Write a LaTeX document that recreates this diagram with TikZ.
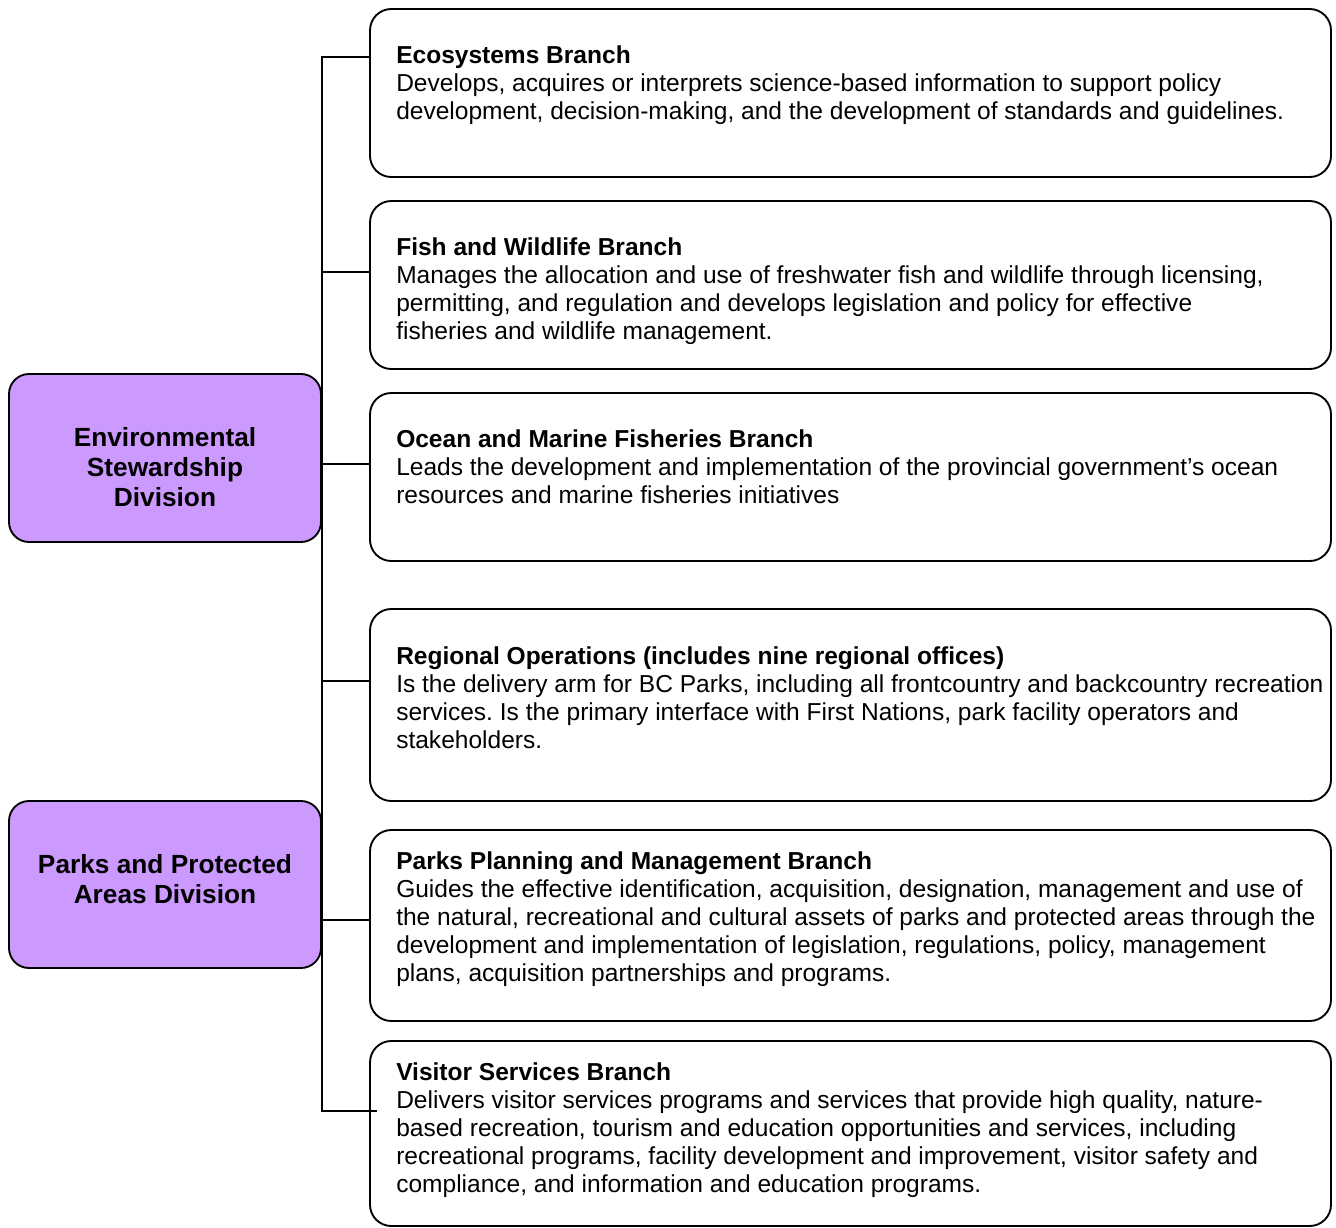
\documentclass[tikz,border=0pt]{standalone}
\usepackage{fontspec}
\setmainfont{Liberation Sans}
\frenchspacing
\definecolor{divfill}{HTML}{CC99FF}
\begin{document}
\begin{tikzpicture}[x=0.75pt,y=-0.75pt,
  branchbox/.style={draw=black,line width=1.4pt,rounded corners=16pt,fill=white,inner sep=0pt},
  divbox/.style={draw=black,line width=1.4pt,rounded corners=15pt,fill=divfill,inner sep=0pt},
  btext/.style={anchor=north west,inner sep=0pt,align=left,font=\fontsize{18.4}{21}\selectfont},
  dtext/.style={inner sep=0pt,align=center,font=\fontsize{19.7}{22.5}\selectfont\bfseries},
  link/.style={line width=1.4pt}]
\useasboundingbox (0,0) rectangle (1336,1228);
% branch boxes
\node[branchbox, minimum width=961*0.75pt, minimum height=168*0.75pt] (b1) at (850.5,93) {};
\node[branchbox, minimum width=961*0.75pt, minimum height=168*0.75pt] (b2) at (850.5,285) {};
\node[branchbox, minimum width=961*0.75pt, minimum height=168*0.75pt] (b3) at (850.5,477) {};
\node[branchbox, minimum width=961*0.75pt, minimum height=192*0.75pt] (b4) at (850.5,705) {};
\node[branchbox, minimum width=961*0.75pt, minimum height=191*0.75pt] (b5) at (850.5,925.5) {};
\node[branchbox, minimum width=961*0.75pt, minimum height=185*0.75pt] (b6) at (850.5,1133.5) {};
% division boxes
\node[divbox, minimum width=312*0.75pt, minimum height=168*0.75pt] (d1) at (165,458) {};
\node[divbox, minimum width=312*0.75pt, minimum height=167*0.75pt] (d2) at (165,884.5) {};
\node[dtext] (d1t) at (165,467) {Environmental\\Stewardship\\Division};
\node[dtext] (d2t) at (165,879) {Parks and Protected\\Areas Division};
% texts
\node[btext] (t1) at (396,45) {\textbf{Ecosystems Branch}\\Develops, acquires or interprets science-based information to support policy\\development, decision-making, and the development of standards and guidelines.};
\node[btext] (t2) at (396,237) {\textbf{Fish and Wildlife Branch}\\Manages the allocation and use of freshwater fish and wildlife through licensing,\\permitting, and regulation and develops legislation and policy for effective\\fisheries and wildlife management.};
\node[btext] (t3) at (396,429) {\textbf{Ocean and Marine Fisheries Branch}\\Leads the development and implementation of the provincial government’s ocean\\resources and marine fisheries initiatives};
\node[btext] (t4) at (396,646) {\textbf{Regional Operations (includes nine regional offices)}\\Is the delivery arm for BC Parks, including all frontcountry and backcountry recreation\\services. Is the primary interface with First Nations, park facility operators and\\stakeholders.};
\node[btext] (t5) at (396,851) {\textbf{Parks Planning and Management Branch}\\Guides the effective identification, acquisition, designation, management and use of\\the natural, recreational and cultural assets of parks and protected areas through the\\development and implementation of legislation, regulations, policy, management\\plans, acquisition partnerships and programs.};
\node[btext] (t6) at (396,1062) {\textbf{Visitor Services Branch}\\Delivers visitor services programs and services that provide high quality, nature-\\based recreation, tourism and education opportunities and services, including\\recreational programs, facility development and improvement, visitor safety and\\compliance, and information and education programs.};
% connectors
\coordinate (c1) at (322,57);
\coordinate (c2) at (322,272);
\coordinate (c3) at (322,464);
\coordinate (c4) at (322,681);
\coordinate (c5) at (322,920);
\coordinate (c6) at (322,1111);
\coordinate (c6e) at (377,1111);
\draw[link] (c1 -| b1.west) -- (c1) -- (c6) -- (c6e);
\draw[link] (c2) -- (c2 -| b2.west);
\draw[link] (c3) -- (c3 -| b3.west);
\draw[link] (c4) -- (c4 -| b4.west);
\draw[link] (c5) -- (c5 -| b5.west);
\end{tikzpicture}
\end{document}
